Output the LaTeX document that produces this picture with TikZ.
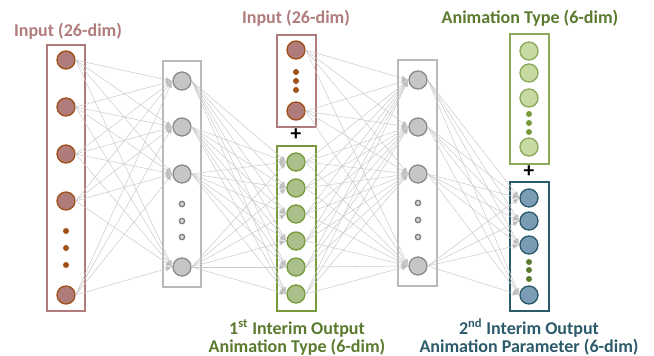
\documentclass[tikz,border=0pt]{standalone}
\usepackage{fontspec}
\setmainfont{Carlito}
\usetikzlibrary{arrows.meta}

\definecolor{mauve}{HTML}{B07B7B}
\definecolor{rust}{HTML}{A0501A}
\definecolor{olive}{HTML}{779A3D}
\definecolor{olivefill}{HTML}{A9C08A}
\definecolor{lightolive}{HTML}{C6DAA2}
\definecolor{darkolive}{HTML}{5A7A2E}
\definecolor{teal2}{HTML}{2B5A6A}
\definecolor{bluefill}{HTML}{7B9CB5}

\begin{document}
\begin{tikzpicture}[x=0.75pt, y=-0.75pt,
    neuron/.style={circle, minimum size=13.5pt, inner sep=0pt, line width=1pt},
    innode/.style={neuron, draw=rust, fill=mauve},
    hidnode/.style={neuron, draw=gray!90, fill=gray!45},
    typenode/.style={neuron, draw=olive, fill=olivefill},
    lighttype/.style={neuron, draw=olive!85, fill=lightolive},
    parnode/.style={neuron, draw=teal2, fill=bluefill},
    dotfill/.style={circle, inner sep=0pt, minimum size=4.5pt},
    dothollow/.style={circle, inner sep=0pt, minimum size=4pt, draw=gray, line width=1pt, fill=gray!30},
    link/.style={gray!40, line width=0.4pt, -{Latex[length=5pt,width=4pt,fill=gray!55]}},
    plus/.style={font=\fontsize{16}{16}\selectfont\bfseries},
    title/.style={font=\fontsize{13.5}{15}\selectfont\bfseries}]

    \useasboundingbox (0,0) rectangle (654,356);

    % input layer
    \draw[mauve, line width=1pt] (47,45) rectangle (85,311);
    \node[title, text=mauve] (intitle) at (68,31) {Input (26-dim)};
    \foreach \n/\y in {1/60, 2/107, 3/154, 4/201, 5/295}
        \node[innode] (i\n) at (66,\y) {};
    \foreach \y in {231, 248, 265}
        \node[dotfill, fill=rust] at (66,\y) {};

    % first hidden layer
    \draw[gray!55, line width=1pt] (163,61) rectangle (201,287);
    \foreach \n/\y in {1/81, 2/127, 3/174, 4/267}
        \node[hidnode] (h\n) at (182,\y) {};
    \foreach \y in {204, 221, 237}
        \node[dothollow] at (182,\y) {};

    % second input + first interim output
    \draw[mauve, line width=1pt] (277,35) rectangle (316,127);
    \node[title, text=mauve] (intitletwo) at (296,18) {Input (26-dim)};
    \node[innode] (p1) at (296,50) {};
    \node[innode] (p2) at (296,111) {};
    \foreach \y in {72, 81, 90}
        \node[dotfill, fill=rust] at (296,\y) {};
    \node[plus] (plusone) at (296,135) {+};
    \draw[olive, line width=1pt] (277,146) rectangle (316,311);
    \foreach \n/\y in {1/162, 2/188, 3/214, 4/241, 5/267, 6/294}
        \node[typenode] (g\n) at (296,\y) {};
    \node[title, text=darkolive] (gname) at (297,328) {1\textsuperscript{st} Interim Output};
    \node[title, text=darkolive] (gdim) at (297,347) {Animation Type (6-dim)};

    % second hidden layer
    \draw[gray!55, line width=1pt] (398,60) rectangle (437,286);
    \foreach \n/\y in {1/80, 2/127, 3/174, 4/266}
        \node[hidnode] (k\n) at (418,\y) {};
    \foreach \y in {203, 220, 237}
        \node[dothollow] at (418,\y) {};

    % animation type + second interim output
    \draw[olive!85, line width=1pt] (510,34) rectangle (549,164);
    \node[title, text=darkolive] (ttitle) at (530,18) {Animation Type (6-dim)};
    \foreach \n/\y in {1/51, 2/73, 3/98, 4/147}
        \node[lighttype] (t\n) at (529,\y) {};
    \foreach \y in {114, 123, 132}
        \node[dotfill, fill=olive] at (529,\y) {};
    \node[plus] (plustwo) at (529,172) {+};
    \draw[teal2, line width=1pt] (510,182) rectangle (549,311);
    \foreach \n/\y in {1/198, 2/221, 3/245, 4/295}
        \node[parnode] (b\n) at (529,\y) {};
    \foreach \y in {262, 270, 279}
        \node[dotfill, fill=darkolive] at (529,\y) {};
    \node[title, text=teal2] (bname) at (529,328) {2\textsuperscript{nd} Interim Output};
    \node[title, text=teal2] (bdim) at (529,347) {Animation Parameter (6-dim)};

    % connections
    \foreach \a in {1,...,5}
        \foreach \b in {1,...,4}
            \draw[link] (i\a.east) -- (h\b.west);
    \foreach \a in {1,...,4}
        \foreach \b in {1,...,6}
            \draw[link] (h\a.east) -- (g\b.west);
    \foreach \a in {p1,p2,g1,g2,g3,g4,g5,g6}
        \foreach \b in {1,...,4}
            \draw[link] (\a.east) -- (k\b.west);
    \foreach \a in {1,...,4}
        \foreach \b in {1,...,4}
            \draw[link] (k\a.east) -- (b\b.west);

\end{tikzpicture}
\end{document}
